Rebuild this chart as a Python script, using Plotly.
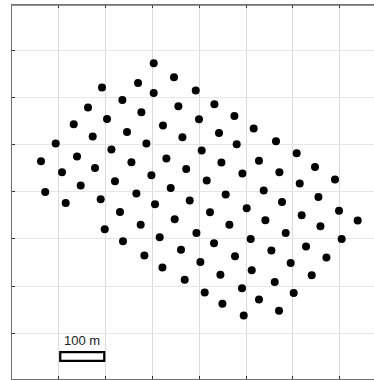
import plotly.graph_objects as go

# Point positions (metres)
x_m = [302.6, 345.9, 269.1, 192.2, 302.6, 355.3, 235.7, 162.3, 276.3, 202.9,
       131.8, 322.4, 245.6, 172.3, 363.9, 93.3, 287.0, 212.3, 138.8, 329.7,
       61.9, 255.0, 106.8, 177.2, 372.0, 297.7, 219.9, 146.7, 338.9, 70.9,
       392.3, 432.2, 399.3, 474.9, 442.0, 516.1, 479.8, 563.7, 405.1, 447.2,
       527.4, 607.9, 492.0, 571.0, 647.0, 415.8, 614.4, 689.7, 537.5,
       114.7, 189.4, 265.6, 305.4, 230.6, 198.0, 274.8, 347.4, 237.0, 315.4,
       282.7, 360.9, 321.2, 368.8, 379.5,
       456.3, 576.6, 654.3, 422.8, 501.2, 541.1, 618.6, 698.3, 738.2, 393.8,
       464.2, 658.6, 584.5, 704.0, 431.4, 509.7, 553.9, 627.8, 671.4, 402.3,
       476.2, 595.1, 445.0, 511.9, 561.0, 640.0, 411.5, 491.1, 601.5, 449.3,
       527.4, 570.2, 494.8]
y_m = [672.4, 642.7, 630.8, 620.9, 609.6, 581.2, 594.8, 578.5, 568.5, 554.5,
       543.1, 540.3, 526.9, 517.0, 515.5, 502.1, 502.1, 489.4, 474.6, 470.3,
       464.6, 462.5, 441.3, 450.6, 448.1, 434.9, 422.2, 413.1, 407.8, 399.3,
       614.5, 585.5, 553.7, 560.9, 524.8, 533.9, 500.7, 507.0, 487.3, 461.9,
       465.5, 481.6, 438.5, 441.3, 452.7, 423.7, 417.3, 425.8, 402.5,
       376.4, 384.1, 396.1, 373.5, 357.3, 320.5, 329.8, 341.7, 295.0, 303.5,
       264.7, 276.8, 239.3, 213.2, 381.3,
       394.0, 378.5, 389.1, 356.5, 365.0, 339.5, 350.1, 359.5, 338.9, 312.8,
       329.8, 326.8, 312.8, 300.1, 290.8, 300.1, 275.3, 283.8, 260.5, 251.3,
       263.2, 249.2, 223.8, 233.5, 208.9, 222.9, 186.3, 195.4, 185.6, 162.3,
       171.4, 147.5, 137.5]

scale_label = "100 m"
scale_x = [103, 197]
scale_y = [41.5, 60]

fig = go.Figure()
fig.add_trace(go.Scatter(
    x=x_m, y=y_m, mode="markers",
    marker=dict(size=8, color="black", line=dict(width=0)),
    hoverinfo="skip", showlegend=False))

fig.add_shape(type="rect", xref="x", yref="y",
              x0=scale_x[0], x1=scale_x[1], y0=scale_y[0], y1=scale_y[1],
              line=dict(color="black", width=2.2), fillcolor="white", layer="above")
fig.add_annotation(x=scale_x[1] - 5, y=84.5, xref="x", yref="y",
                   text=scale_label, showarrow=False, xanchor="right", yanchor="middle",
                   font=dict(family="Liberation Sans, Arial", size=13, color="#222"))
# top frame line
fig.add_shape(type="line", xref="paper", yref="paper", x0=0, x1=1, y0=1, y1=1,
              line=dict(color="#707070", width=1.5), layer="above")

fig.update_layout(
    width=374, height=380,
    margin=dict(l=12, r=0, t=5, b=1),
    paper_bgcolor="white", plot_bgcolor="white",
    hovermode=False,
    xaxis=dict(range=[0, 773], tick0=0, dtick=100, showticklabels=False,
               showgrid=True, gridcolor="#dadada", gridwidth=1, zeroline=False,
               showline=True, linecolor="#707070", linewidth=1.5, mirror="ticks",
               ticks="inside", ticklen=3, tickcolor="#333", tickwidth=1),
    yaxis=dict(range=[3, 796], tick0=0, dtick=100, showticklabels=False,
               showgrid=True, gridcolor="#e6e6e6", gridwidth=1, zeroline=False,
               showline=True, linecolor="#707070", linewidth=1.5, mirror=False,
               ticks="inside", ticklen=3, tickcolor="#333", tickwidth=1),
)

fig.write_html("out.html", config={"displayModeBar": False, "staticPlot": True},
               post_script="document.body.style.margin='0';document.body.style.overflow='hidden';")
